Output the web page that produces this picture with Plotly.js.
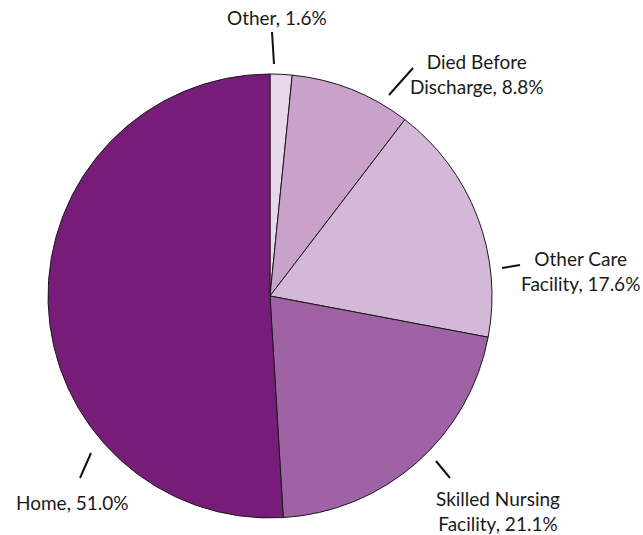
<!DOCTYPE html>
<html>
<head>
<meta charset="utf-8">
<script src="https://cdn.plot.ly/plotly-3.0.1.min.js"></script>
<style>html,body{margin:0;padding:0;background:#fff;}#chart{width:643px;height:535px;}</style>
</head>
<body>
<div id="chart"></div>
<script>
// Data
var categories = ["Other", "Died Before Discharge", "Other Care Facility", "Skilled Nursing Facility", "Home"];
var labelLines = [["Other, 1.6%"], ["Died Before", "Discharge, 8.8%"], ["Other Care", "Facility, 17.6%"], ["Skilled Nursing", "Facility, 21.1%"], ["Home, 51.0%"]];
var values = [1.6, 8.8, 17.6, 21.1, 51.0];

// Styling (separate from data)
var colors = ["#E8D7EA", "#C8A2CB", "#D4B8D7", "#9E62A5", "#771D79"];
var W = 643, H = 535;
// label centres and leader-line endpoints in pixel space
var labelPos = [[277, 18], [477, 74], [580, 271], [498, 511], [72, 502]];
var leaders = [[272, 32, 274, 64], [389, 95, 413, 68], [502, 268, 520, 265], [436, 461, 450, 478], [80, 478, 91, 453]];

function px(x) { return x / W; }
function py(y) { return 1 - y / H; }

var cx = 270, cy = 296, r = 222;

var trace = {
  type: "pie",
  labels: categories,
  values: values,
  sort: false,
  direction: "clockwise",
  rotation: 0,
  textinfo: "none",
  hoverinfo: "label+percent",
  marker: { colors: colors, line: { color: "#1a1a1a", width: 1 } },
  domain: { x: [px(cx - r), px(cx + r)], y: [py(cy + r), py(cy - r)] },
  showlegend: false
};

var annotations = labelLines.map(function (lines, i) {
  return {
    text: lines.join("<br>"),
    xref: "paper", yref: "paper",
    x: px(labelPos[i][0]), y: py(labelPos[i][1]),
    xanchor: "center", yanchor: "middle",
    align: "center",
    showarrow: false,
    font: { family: "Lato, 'Open Sans', sans-serif", size: 19, color: "#1a1a1a" }
  };
});

var shapes = leaders.map(function (l) {
  return {
    type: "line", xref: "paper", yref: "paper",
    x0: px(l[0]), y0: py(l[1]), x1: px(l[2]), y1: py(l[3]),
    line: { color: "#111", width: 2 }
  };
});

var layout = {
  width: W, height: H,
  margin: { l: 0, r: 0, t: 0, b: 0 },
  paper_bgcolor: "#ffffff",
  plot_bgcolor: "#ffffff",
  annotations: annotations,
  shapes: shapes,
  showlegend: false
};

Plotly.newPlot("chart", [trace], layout, { displayModeBar: false, staticPlot: true });
</script>
</body>
</html>
